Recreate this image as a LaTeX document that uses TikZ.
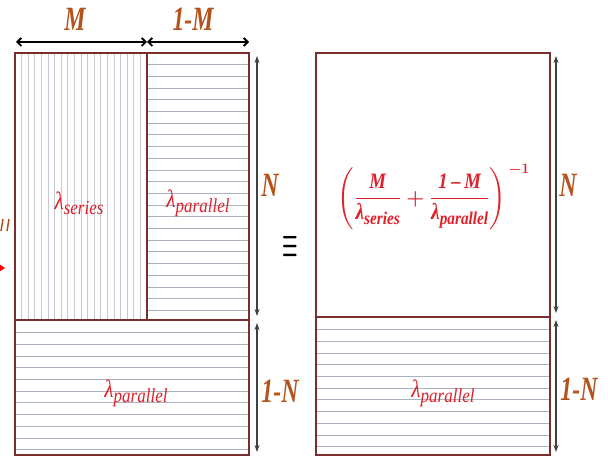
\documentclass[tikz,border=0pt]{standalone}
\usepackage{amsmath}
\usepackage{fontspec}
\usetikzlibrary{arrows.meta}
\newfontfamily\dimfont[FakeStretch=0.7]{Liberation Serif}
\newfontfamily\lamfont[FakeStretch=0.85]{Liberation Serif}
\definecolor{frame}{HTML}{7B2E2E}
\definecolor{hatchv}{HTML}{C4C8D2}
\definecolor{hatchh}{HTML}{A9B3BF}
\definecolor{lbl}{HTML}{B5531E}
\definecolor{lam}{HTML}{E0202A}
\newsavebox{\formulabox}
\newcommand{\lamlabel}[1]{{\fontsize{25}{27}\selectfont\itshape\lamfont λ}\raisebox{-5pt}{\fontsize{20}{22}\selectfont\lamfont\itshape #1}}
\newcommand{\flam}[1]{\text{\lamfont\bfseries\itshape{\fontsize{23}{25}\selectfont λ}\raisebox{-5pt}{\fontsize{18}{20}\selectfont #1}}}
\newcommand{\fnum}[1]{\text{\lamfont\bfseries\itshape\fontsize{22}{24}\selectfont #1}}
\begin{document}
\sbox{\formulabox}{\fontsize{21}{24}\selectfont\color{lam}\boldmath$\displaystyle\left(\frac{\fnum{M}}{\flam{series}}+\frac{\fnum{1\,–\,M}}{\flam{parallel}}\right)^{\,-1}$}%
\begin{tikzpicture}[x=1pt,y=-1pt,
  hatchv/.style={draw=hatchv,line width=0.9pt},
  hatchh/.style={draw=hatchh,line width=0.9pt},
  frm/.style={draw=frame,line width=1.6pt},
  dimlbl/.style={text=lbl,font=\fontsize{34}{36}\selectfont\dimfont\bfseries\itshape,inner sep=0pt},
  lamlbl/.style={text=lam,inner sep=0pt},
  topdim/.style={black,line width=1.8pt,{Straight Barb[length=4pt,width=8pt,line width=1.8pt]}-{Straight Barb[length=4pt,width=8pt,line width=1.8pt]}},
  sidedim/.style={black!75,line width=1.2pt,{Stealth[length=7pt,width=5pt]}-{Stealth[length=7pt,width=5pt]}}
]
\useasboundingbox[fill=white] (0,0) rectangle (608,465);
% hatching
\foreach \x in {21.6,28.2,...,146} \draw[hatchv] (\x,53) -- (\x,320);
\foreach \y in {64.7,76.4,...,318} \draw[hatchh] (147,\y) -- (249,\y);
\foreach \y in {332.7,344.4,...,453} \draw[hatchh] (15,\y) -- (249,\y);
\foreach \y in {329.7,341.4,...,453} \draw[hatchh] (316,\y) -- (550,\y);
% frames
\draw[frm] (15,53) rectangle (249,455);
\draw[frm] (147,53) -- (147,320);
\draw[frm] (15,320) -- (249,320);
\draw[frm] (316,53) rectangle (550,455);
\draw[frm] (316,317) -- (550,317);
% dimension coordinates
\coordinate (tA) at (16,42);
\coordinate (tB) at (147,42);
\coordinate (tC) at (249,42);
\coordinate (lA) at (257,56);
\coordinate (lB) at (257,316);
\coordinate (lC) at (257,323);
\coordinate (lD) at (257,452);
\coordinate (rA) at (556,56);
\coordinate (rB) at (556,313);
\coordinate (rC) at (556,320);
\coordinate (rD) at (556,452);
\draw[topdim] (tA) -- (tB);
\draw[topdim] (tB) -- (tC);
\draw[sidedim] (lA) -- (lB);
\draw[sidedim] (lC) -- (lD);
\draw[sidedim] (rA) -- (rB);
\draw[sidedim] (rC) -- (rD);
% dimension labels
\node[dimlbl] (M) at (75,19) {M};
\node[dimlbl] (oneM) at (193,19) {1-M};
\node[dimlbl] (N1) at (270,185) {N};
\node[dimlbl] (oneN1) at (280,391) {1-N};
\node[dimlbl] (N2) at (568,185) {N};
\node[dimlbl] (oneN2) at (579,389) {1-N};
% lambda labels
\node[lamlbl] (ls) at (79,203) {\lamlabel{series}};
\node[lamlbl] (lp1) at (198,203) {\lamlabel{parallel}};
\node[lamlbl] (lp2) at (136,393) {\lamlabel{parallel}};
\node[lamlbl] (lp3) at (443,393) {\lamlabel{parallel}};
% equivalence
\node[font=\fontsize{26}{28}\selectfont,inner sep=0pt] (eq) at (290,247) {\scalebox{0.7}[1.6]{\boldmath$\equiv$}};
% formula
\node[inner sep=0pt] (formula) at (434,197) {\usebox{\formulabox}};
% cropped fragments at left edge
\draw[lbl,line width=1.5pt] (3,219) -- (1,231);
\draw[lbl,line width=1.5pt] (9,219) -- (7,231);
\fill[red] (-4,262) -- (5,268) -- (-4,274) -- cycle;
\end{tikzpicture}
\end{document}
